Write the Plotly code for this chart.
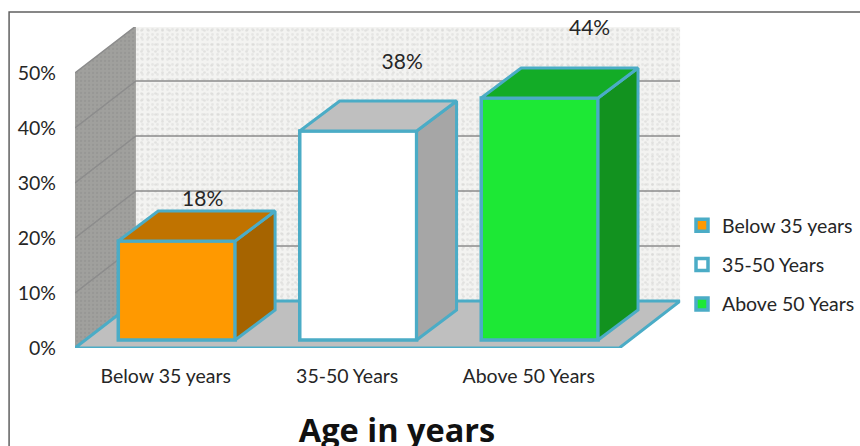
import plotly.graph_objects as go

categories = ["Below 35 years", "35-50 Years", "Above 50 Years"]
values = [18, 38, 44]
y_ticks = [0, 10, 20, 30, 40, 50]
axis_title = "Age in years"

front_colors = ["#FF9900", "#FFFFFF", "#1DE835"]
top_colors = ["#C07300", "#BFBFBF", "#13AC27"]
side_colors = ["#A66400", "#A6A6A6", "#12921F"]
edge = "#4BACC6"
grid = "#8C8C8C"
ink = "#262626"
font = "Lato, sans-serif"

# pixel layout converted to axis units
W, H = 860, 446
L, R, T, B = 75, 681, 27, 348
PX_PER_CAT = 181.7
PX_PER_PCT = 5.5
X_RANGE = [-0.5, (R - L) / PX_PER_CAT - 0.5]
Y_RANGE = [0, (B - T) / PX_PER_PCT]
WALL_DX, WALL_DY = 61 / PX_PER_CAT, 47 / PX_PER_PCT
BAR_W = 117 / PX_PER_CAT
BAR_SHIFT = 11 / PX_PER_CAT
BAR_BASE = 8 / PX_PER_PCT
BAR_DX, BAR_DY = 40 / PX_PER_CAT, 30 / PX_PER_PCT
LABEL_DX = [26 / PX_PER_CAT, 44 / PX_PER_CAT, 50 / PX_PER_CAT]
LABEL_DY = [48 / PX_PER_PCT, 75 / PX_PER_PCT, 76 / PX_PER_PCT]

x_lo, x_hi = X_RANGE[0], X_RANGE[1] - WALL_DX
top = y_ticks[-1]
fig = go.Figure()


def poly(xs, ys, fill, line=None, width=0, axes=("x", "y"), pattern=None):
    fig.add_trace(go.Scatter(
        x=xs + xs[:1], y=ys + ys[:1], mode="lines", fill="toself", fillcolor=fill,
        fillpattern=pattern, line=dict(color=line or fill, width=width if line else 0),
        showlegend=False, hoverinfo="skip", xaxis=axes[0], yaxis=axes[1]))


# back wall and side wall, two overlaid speckle patterns
back_x = [x_lo + WALL_DX, X_RANGE[1], X_RANGE[1], x_lo + WALL_DX]
back_y = [WALL_DY, WALL_DY, WALL_DY + top, WALL_DY + top]
poly(back_x, back_y, "#F1F1EF",
     pattern=dict(shape=".", bgcolor="#F3F3F1", fgcolor="#DADAD8", size=5, solidity=0.25))
poly(back_x, back_y, "rgba(0,0,0,0)",
     pattern=dict(shape=".", bgcolor="rgba(0,0,0,0)", fgcolor="#CFCFCD", size=7, solidity=0.12))
side_x = [x_lo, x_lo + WALL_DX, x_lo + WALL_DX, x_lo]
side_y = [top, top + WALL_DY, WALL_DY, 0]
poly(side_x, side_y, "#9B9B98",
     pattern=dict(shape=".", bgcolor="#A0A09D", fgcolor="#8E8E8B", size=4, solidity=0.25))
# gridlines
for t in y_ticks:
    fig.add_trace(go.Scatter(
        x=[x_lo, x_lo + WALL_DX, X_RANGE[1]], y=[t, t + WALL_DY, t + WALL_DY],
        mode="lines", line=dict(color=grid, width=1.5), showlegend=False, hoverinfo="skip"))
# floor
poly([x_lo, x_hi, X_RANGE[1], x_lo + WALL_DX], [0, 0, WALL_DY, WALL_DY], "#BFBFBF", edge, 3)

# bars
ov = ("x2", "y2")
for i, (c, v) in enumerate(zip(categories, values)):
    x0, x1 = i + BAR_SHIFT - BAR_W / 2, i + BAR_SHIFT + BAR_W / 2
    yt = v + BAR_BASE
    fig.add_trace(go.Bar(
        x=[i + BAR_SHIFT], y=[v], base=[BAR_BASE], width=[BAR_W], name=c, legendgroup=c,
        marker=dict(color=front_colors[i], line=dict(color=edge, width=3.5)),
        xaxis="x2", yaxis="y2", hovertemplate="%{y}%<extra></extra>"))
    poly([x1, x1 + BAR_DX, x1 + BAR_DX, x1],
         [BAR_BASE, BAR_BASE + BAR_DY, yt + BAR_DY, yt], side_colors[i], edge, 3, ov)
    poly([x0, x1, x1 + BAR_DX, x0 + BAR_DX],
         [yt, yt, yt + BAR_DY, yt + BAR_DY], top_colors[i], edge, 3, ov)

# data labels
fig.add_trace(go.Scatter(
    x=[i + BAR_SHIFT + d for i, d in enumerate(LABEL_DX)],
    y=[v + d for v, d in zip(values, LABEL_DY)],
    mode="text", text=[f"{v}%" for v in values], textposition="middle center",
    textfont=dict(family=font, size=21, color=ink), cliponaxis=False,
    showlegend=False, hoverinfo="skip", xaxis="x2", yaxis="y2"))

px_w, px_h = W - L, B - T
x_domain = [0, (R - L) / px_w]
hidden = dict(visible=False, fixedrange=True)
fig.update_layout(
    width=W, height=H, margin=dict(l=L, r=0, t=T, b=H - B),
    paper_bgcolor="white", plot_bgcolor="white", barmode="overlay",
    font=dict(family=font, color=ink),
    xaxis=dict(range=X_RANGE, domain=x_domain, tickmode="array",
               tickvals=list(range(len(categories))),
               ticktext=categories, showgrid=False, zeroline=False, showline=False, ticks="",
               tickfont=dict(size=19.5), ticklabelstandoff=14, fixedrange=True),
    yaxis=dict(range=Y_RANGE, tickmode="array", tickvals=y_ticks,
               ticktext=[f"{t}%" for t in y_ticks], showgrid=False, zeroline=False,
               showline=False, ticks="", tickfont=dict(size=19.5), ticklabelstandoff=18,
               fixedrange=True),
    xaxis2={**hidden, "range": X_RANGE, "domain": x_domain, "overlaying": "x"},
    yaxis2={**hidden, "range": Y_RANGE, "overlaying": "y"},
    legend=dict(x=(683 - L) / px_w, y=(B - 206) / px_h, xanchor="left", yanchor="top",
                font=dict(size=19.5, color=ink), tracegroupgap=11, bgcolor="rgba(0,0,0,0)",
                itemclick=False, itemdoubleclick=False),
    title=dict(text=f"<b>{axis_title}</b>", x=397 / W, xanchor="center", y=1 - 431 / H,
               yanchor="middle", font=dict(family="Open Sans, sans-serif", size=32.5, color="#111111")),
    shapes=[dict(type="rect", xref="paper", yref="paper", x0=(9 - L) / px_w, x1=1.5,
                 y0=-1, y1=(B - 12) / px_h, line=dict(color="#606060", width=1.5), layer="below")],
)
fig.write_html("out.html", post_script="document.body.style.margin='0';",
               config={"displayModeBar": False})
